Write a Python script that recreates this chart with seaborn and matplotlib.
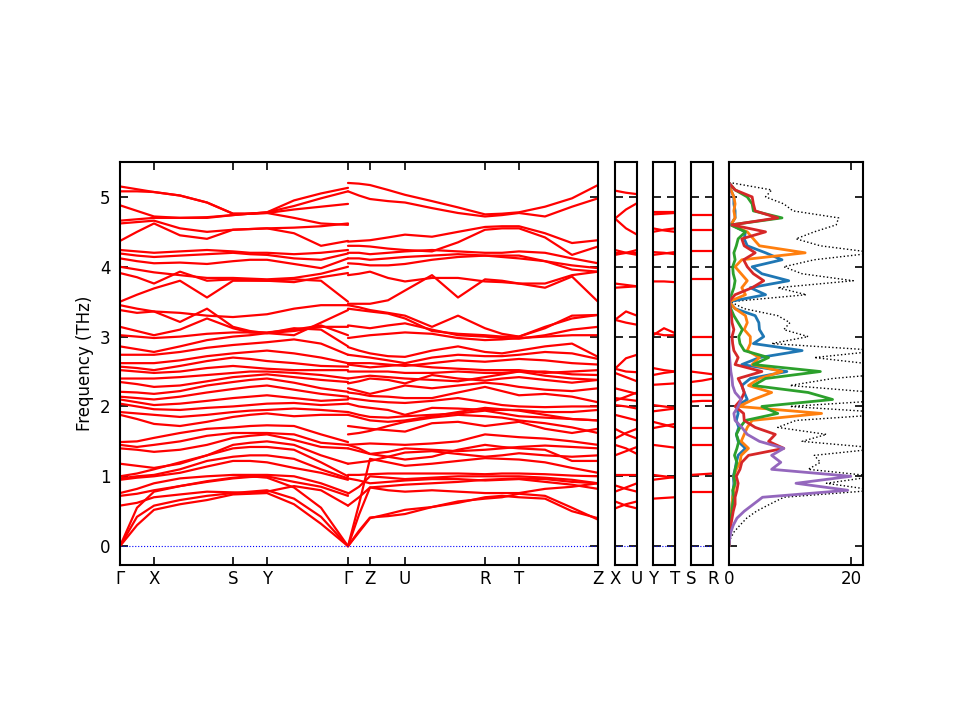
import matplotlib
matplotlib.use("Agg")
import matplotlib.pyplot as plt
import pandas as pd
import seaborn as sns

# ---- k-path (distances along the path, same units as panel widths) ----
k_left = [0, 17, 34, 60, 87, 113, 130, 147, 174, 201, 228]
k_right = [228, 239, 250, 268, 285, 312, 338, 365, 382, 399, 425, 452, 478]
k_short = [0, 11, 22]
main_ticks = [0, 34, 113, 147, 228, 250, 285, 365, 399, 478]
main_labels = ["Γ", "X", "S", "Y", "Γ", "Z", "U", "R", "T", "Z"]
short_labels = [["X", "U"], ["Y", "T"], ["S", "R"]]

# ---- bands on Γ-X-S-Y-Γ (THz) ----
left_low = [
    [0.00, 0.30, 0.52, 0.60, 0.66, 0.74, 0.75, 0.76, 0.60, 0.32, 0.00],
    [0.00, 0.42, 0.58, 0.66, 0.72, 0.76, 0.78, 0.80, 0.68, 0.42, 0.00],
    [0.00, 0.55, 0.78, 0.86, 0.93, 0.98, 1.00, 0.98, 0.84, 0.55, 0.00],
    [0.58, 0.62, 0.70, 0.74, 0.78, 0.77, 0.76, 0.78, 0.86, 0.80, 0.58],
    [0.72, 0.75, 0.80, 0.86, 0.92, 0.97, 0.99, 1.00, 0.92, 0.85, 0.72],
    [0.76, 0.82, 0.90, 0.97, 1.00, 1.02, 1.02, 1.02, 1.00, 0.90, 0.76],
    [0.95, 0.98, 1.00, 1.05, 1.14, 1.22, 1.22, 1.20, 1.12, 1.05, 0.95],
    [0.97, 1.00, 1.02, 1.10, 1.22, 1.28, 1.30, 1.30, 1.25, 1.10, 0.97],
    [1.00, 1.04, 1.10, 1.20, 1.30, 1.40, 1.42, 1.42, 1.38, 1.20, 1.00],
    [1.18, 1.15, 1.12, 1.18, 1.30, 1.45, 1.48, 1.50, 1.45, 1.30, 1.18],
    [1.40, 1.38, 1.35, 1.38, 1.45, 1.55, 1.58, 1.60, 1.52, 1.42, 1.40],
    [1.45, 1.42, 1.45, 1.50, 1.58, 1.62, 1.62, 1.62, 1.60, 1.48, 1.45],
    [1.49, 1.50, 1.55, 1.62, 1.68, 1.70, 1.72, 1.73, 1.72, 1.60, 1.49],
]
left_mid = [
    [1.88, 1.82, 1.75, 1.72, 1.78, 1.85, 1.88, 1.90, 1.86, 1.88, 1.88],
    [1.92, 1.90, 1.88, 1.85, 1.88, 1.92, 1.94, 1.95, 1.97, 1.95, 1.92],
    [2.04, 2.00, 1.96, 1.95, 1.98, 2.00, 2.02, 2.04, 2.05, 2.02, 2.04],
    [2.10, 2.06, 2.02, 2.04, 2.08, 2.12, 2.14, 2.16, 2.12, 2.08, 2.10],
    [2.14, 2.12, 2.10, 2.14, 2.20, 2.25, 2.28, 2.30, 2.24, 2.18, 2.14],
    [2.21, 2.20, 2.18, 2.22, 2.30, 2.35, 2.38, 2.40, 2.34, 2.26, 2.21],
    [2.35, 2.32, 2.28, 2.30, 2.36, 2.42, 2.44, 2.46, 2.42, 2.38, 2.35],
    [2.40, 2.40, 2.40, 2.42, 2.45, 2.48, 2.50, 2.50, 2.48, 2.45, 2.40],
    [2.52, 2.50, 2.48, 2.50, 2.55, 2.58, 2.56, 2.54, 2.52, 2.52, 2.52],
    [2.57, 2.55, 2.52, 2.58, 2.65, 2.70, 2.68, 2.65, 2.62, 2.58, 2.57],
    [2.62, 2.62, 2.62, 2.66, 2.72, 2.76, 2.78, 2.80, 2.76, 2.70, 2.62],
    [2.74, 2.74, 2.74, 2.78, 2.84, 2.88, 2.90, 2.92, 2.96, 2.90, 2.74],
    [2.86, 2.82, 2.78, 2.86, 2.95, 3.00, 3.02, 3.05, 3.12, 3.10, 2.86],
    [3.02, 3.00, 2.98, 3.00, 3.04, 3.06, 3.06, 3.06, 3.10, 3.16, 3.02],
    [3.14, 3.08, 3.02, 3.10, 3.26, 3.12, 3.06, 3.05, 3.08, 3.14, 3.14],
]
left_high = [
    [3.38, 3.34, 3.36, 3.21, 3.40, 3.14, 3.08, 3.05, 3.02, 3.20, 3.38],
    [3.45, 3.40, 3.36, 3.34, 3.30, 3.28, 3.30, 3.32, 3.40, 3.45, 3.45],
    [3.50, 3.60, 3.69, 3.80, 3.56, 3.80, 3.80, 3.80, 3.82, 3.80, 3.50],
    [3.91, 3.85, 3.76, 3.93, 3.80, 3.82, 3.81, 3.80, 3.78, 3.85, 3.91],
    [4.00, 3.96, 3.92, 3.88, 3.84, 3.84, 3.83, 3.82, 3.84, 3.90, 4.00],
    [4.12, 4.08, 4.05, 4.06, 4.04, 4.08, 4.10, 4.10, 4.04, 3.98, 4.12],
    [4.19, 4.16, 4.14, 4.16, 4.18, 4.20, 4.18, 4.17, 4.12, 4.10, 4.19],
    [4.24, 4.22, 4.20, 4.22, 4.24, 4.22, 4.20, 4.20, 4.18, 4.20, 4.24],
    [4.37, 4.50, 4.62, 4.45, 4.40, 4.53, 4.54, 4.55, 4.48, 4.30, 4.37],
    [4.62, 4.64, 4.66, 4.55, 4.50, 4.53, 4.54, 4.55, 4.56, 4.58, 4.62],
    [4.66, 4.68, 4.70, 4.70, 4.71, 4.74, 4.76, 4.77, 4.70, 4.62, 4.60],
    [4.88, 4.80, 4.72, 4.70, 4.70, 4.74, 4.76, 4.77, 4.82, 4.86, 4.90],
    [5.08, 5.08, 5.07, 5.02, 4.92, 4.76, 4.76, 4.78, 4.87, 4.98, 5.08],
    [5.15, 5.11, 5.07, 5.02, 4.92, 4.76, 4.76, 4.78, 4.95, 5.05, 5.13],
]

# ---- bands on Γ-Z-U-R-T-Z (THz) ----
right_high = [
    [5.20, 5.19, 5.17, 5.10, 5.03, 4.94, 4.85, 4.75, 4.76, 4.78, 4.86, 4.98, 5.17],
    [5.08, 5.02, 4.97, 4.94, 4.92, 4.84, 4.77, 4.72, 4.74, 4.77, 4.72, 4.86, 4.98],
    [4.36, 4.37, 4.38, 4.42, 4.46, 4.43, 4.50, 4.57, 4.58, 4.58, 4.48, 4.34, 4.38],
    [4.30, 4.30, 4.29, 4.26, 4.24, 4.22, 4.35, 4.53, 4.55, 4.55, 4.42, 4.17, 4.29],
    [4.20, 4.20, 4.18, 4.20, 4.22, 4.24, 4.22, 4.20, 4.20, 4.22, 4.20, 4.12, 4.05],
    [4.12, 4.12, 4.10, 4.12, 4.14, 4.16, 4.18, 4.16, 4.14, 4.12, 4.08, 4.02, 3.98],
    [4.05, 4.04, 4.02, 4.02, 4.04, 4.10, 4.14, 4.16, 4.16, 4.16, 4.08, 3.96, 3.93],
    [3.88, 3.90, 3.93, 3.84, 3.79, 3.84, 3.84, 3.79, 3.78, 3.76, 3.76, 3.88, 3.93],
    [3.47, 3.47, 3.47, 3.52, 3.66, 3.88, 3.56, 3.82, 3.80, 3.76, 3.70, 3.86, 3.50],
]
right_mid = [
    [3.45, 3.42, 3.38, 3.34, 3.30, 3.14, 3.30, 3.12, 3.04, 3.00, 3.14, 3.26, 3.31],
    [3.40, 3.38, 3.36, 3.33, 3.26, 3.08, 3.04, 3.02, 3.00, 3.00, 3.12, 3.30, 3.31],
    [3.16, 3.14, 3.12, 3.16, 3.19, 3.10, 3.02, 3.00, 2.98, 2.97, 3.02, 3.10, 3.14],
    [2.98, 3.00, 3.02, 3.04, 3.06, 3.04, 2.98, 2.95, 2.96, 2.98, 3.00, 3.02, 3.02],
    [2.85, 2.80, 2.76, 2.72, 2.71, 2.80, 2.86, 2.78, 2.76, 2.80, 2.86, 2.90, 2.71],
    [2.74, 2.72, 2.70, 2.66, 2.62, 2.70, 2.74, 2.72, 2.72, 2.74, 2.78, 2.76, 2.68],
    [2.62, 2.62, 2.62, 2.60, 2.58, 2.62, 2.66, 2.64, 2.66, 2.68, 2.66, 2.62, 2.60],
    [2.60, 2.58, 2.56, 2.58, 2.60, 2.56, 2.54, 2.52, 2.52, 2.52, 2.48, 2.50, 2.52],
    [2.50, 2.50, 2.50, 2.50, 2.48, 2.48, 2.50, 2.48, 2.48, 2.50, 2.50, 2.46, 2.45],
    [2.40, 2.42, 2.44, 2.42, 2.40, 2.38, 2.36, 2.42, 2.46, 2.50, 2.44, 2.40, 2.38],
    [2.33, 2.36, 2.40, 2.38, 2.33, 2.45, 2.40, 2.37, 2.40, 2.42, 2.38, 2.34, 2.38],
    [2.26, 2.22, 2.18, 2.24, 2.30, 2.26, 2.30, 2.34, 2.32, 2.28, 2.24, 2.22, 2.26],
    [2.20, 2.18, 2.15, 2.14, 2.12, 2.12, 2.20, 2.28, 2.22, 2.16, 2.18, 2.14, 2.06],
    [2.12, 2.10, 2.08, 2.06, 2.05, 2.08, 2.12, 2.06, 2.02, 2.00, 1.99, 2.00, 2.00],
    [2.04, 2.00, 1.98, 1.95, 1.88, 1.98, 1.97, 1.95, 1.95, 1.95, 1.92, 1.92, 1.95],
]
right_low = [
    [1.92, 1.88, 1.85, 1.84, 1.86, 1.88, 1.90, 1.94, 1.90, 1.86, 1.84, 1.82, 1.80],
    [1.88, 1.84, 1.80, 1.78, 1.80, 1.86, 1.92, 1.98, 1.96, 1.94, 1.88, 1.82, 1.80],
    [1.72, 1.70, 1.68, 1.66, 1.64, 1.76, 1.78, 1.72, 1.75, 1.78, 1.68, 1.62, 1.68],
    [1.60, 1.62, 1.65, 1.72, 1.78, 1.84, 1.88, 1.86, 1.84, 1.80, 1.76, 1.70, 1.62],
    [1.45, 1.46, 1.47, 1.46, 1.45, 1.47, 1.50, 1.60, 1.58, 1.56, 1.54, 1.50, 1.45],
    [1.45, 1.40, 1.32, 1.28, 1.24, 1.28, 1.38, 1.45, 1.42, 1.40, 1.38, 1.22, 1.22],
    [1.40, 1.36, 1.32, 1.35, 1.40, 1.38, 1.36, 1.38, 1.40, 1.42, 1.44, 1.42, 1.40],
    [1.18, 1.20, 1.22, 1.28, 1.34, 1.36, 1.32, 1.28, 1.30, 1.33, 1.30, 1.28, 1.30],
    [0.00, 0.60, 1.25, 1.20, 1.15, 1.18, 1.22, 1.26, 1.25, 1.24, 1.20, 1.12, 1.05],
    [1.02, 1.02, 1.03, 1.04, 1.04, 1.04, 1.04, 1.03, 1.04, 1.04, 1.03, 1.01, 1.00],
    [0.97, 0.94, 0.90, 0.92, 0.94, 0.96, 0.96, 0.94, 0.95, 0.96, 0.92, 0.88, 0.82],
    [0.75, 0.85, 1.00, 0.98, 0.96, 0.98, 1.00, 1.00, 1.00, 1.00, 0.98, 0.95, 0.90],
    [0.58, 0.70, 0.84, 0.86, 0.88, 0.90, 0.92, 0.95, 0.96, 0.97, 0.96, 0.92, 0.90],
    [0.00, 0.45, 0.84, 0.80, 0.78, 0.80, 0.78, 0.76, 0.76, 0.76, 0.82, 0.85, 0.90],
    [0.00, 0.20, 0.40, 0.46, 0.52, 0.56, 0.62, 0.70, 0.72, 0.70, 0.68, 0.50, 0.40],
    [0.00, 0.22, 0.41, 0.43, 0.46, 0.56, 0.64, 0.68, 0.70, 0.75, 0.72, 0.55, 0.38],
]

# ---- short segments X-U, Y-T, S-R (THz) ----
xu_bands = [
    [5.09, 5.06, 5.04], [4.69, 4.82, 4.91], [4.69, 4.55, 4.46], [4.24, 4.20, 4.17],
    [4.17, 4.20, 4.24], [4.20, 4.20, 4.20], [3.76, 3.74, 3.72], [3.70, 3.71, 3.72],
    [3.24, 3.36, 3.30], [3.24, 3.20, 3.17], [2.54, 2.69, 2.74], [2.54, 2.50, 2.49],
    [2.48, 2.42, 2.36], [2.26, 2.22, 2.18], [2.12, 2.10, 2.08], [2.02, 2.00, 1.97],
    [2.08, 2.14, 2.20], [1.88, 1.84, 1.80], [1.68, 1.60, 1.54], [1.54, 1.62, 1.68],
    [1.45, 1.40, 1.32], [1.30, 1.36, 1.42], [1.02, 1.02, 1.02], [0.87, 0.82, 0.78],
    [0.78, 0.84, 0.90], [0.64, 0.58, 0.54], [0.54, 0.60, 0.64],
]
yt_bands = [
    [4.78, 4.78, 4.78], [4.75, 4.76, 4.77], [4.55, 4.52, 4.50], [4.50, 4.53, 4.55],
    [4.21, 4.20, 4.18], [4.17, 4.19, 4.21], [3.79, 3.79, 3.78], [3.02, 3.12, 3.05],
    [3.05, 3.02, 3.02], [2.55, 2.52, 2.50], [2.45, 2.48, 2.50], [2.31, 2.32, 2.33],
    [2.02, 2.00, 1.98], [1.93, 1.95, 1.97], [1.78, 1.74, 1.70], [1.69, 1.72, 1.75],
    [1.45, 1.43, 1.41], [1.02, 1.00, 0.98], [0.95, 0.97, 0.99], [0.68, 0.69, 0.70],
]
sr_bands = [
    [4.74, 4.74, 4.74], [4.53, 4.53, 4.53], [4.22, 4.22, 4.22], [3.83, 3.83, 3.83],
    [3.00, 3.00, 3.00], [2.74, 2.74, 2.74], [2.50, 2.48, 2.46], [2.35, 2.37, 2.40],
    [2.16, 2.16, 2.16], [2.07, 2.08, 2.08], [1.69, 1.69, 1.69], [1.45, 1.45, 1.45],
    [1.02, 1.03, 1.04], [0.78, 0.78, 0.78],
]

# ---- phonon DOS (states/THz) ----
dos_freq = [0.0, 0.1, 0.2, 0.3, 0.4, 0.5, 0.6, 0.7, 0.8, 0.9,
            1.0, 1.1, 1.2, 1.3, 1.4, 1.5, 1.6, 1.7, 1.8, 1.9,
            2.0, 2.1, 2.2, 2.3, 2.4, 2.5, 2.6, 2.7, 2.8, 2.9,
            3.0, 3.1, 3.2, 3.3, 3.4, 3.5, 3.6, 3.7, 3.8, 3.9,
            4.0, 4.1, 4.2, 4.3, 4.4, 4.5, 4.6, 4.7, 4.8, 4.9,
            5.0, 5.1, 5.2]
dos_total = [0.0, 0.2, 0.8, 1.8, 2.9, 4.5, 6.7, 9.0, 24.0, 16.0,
             24.0, 13.0, 15.0, 14.0, 25.0, 12.0, 16.0, 8.0, 11.0, 28.0,
             10.0, 28.0, 24.0, 10.0, 17.0, 30.0, 24.0, 14.0, 25.0, 7.0,
             13.0, 9.0, 10.0, 8.0, 2.5, 0.2, 12.7, 8.0, 20.4, 12.0,
             9.0, 14.0, 24.0, 15.0, 11.0, 14.0, 17.6, 18.0, 10.5, 9.0,
             6.0, 7.0, 0.5]
dos_blue = [0.0, 0.0, 0.1, 0.2, 0.3, 0.4, 0.5, 0.6, 0.7, 0.8,
            0.7, 1.0, 1.2, 1.5, 2.7, 1.5, 1.2, 1.6, 1.2, 1.5,
            1.2, 3.0, 2.5, 2.1, 3.5, 9.5, 2.1, 5.0, 12.0, 4.0,
            5.7, 5.0, 4.9, 4.3, 1.0, 0.0, 6.0, 3.5, 9.8, 5.4,
            3.8, 8.7, 6.0, 3.0, 2.5, 2.7, 0.3, 1.0, 1.0, 0.8,
            0.8, 0.3, 0.0]
dos_orange = [0.0, 0.0, 0.1, 0.2, 0.3, 0.4, 0.5, 0.6, 0.8, 1.0,
              0.8, 1.2, 1.8, 2.0, 3.2, 2.0, 2.5, 3.0, 3.8, 15.2,
              1.6, 4.0, 7.0, 3.2, 5.0, 8.7, 3.8, 5.0, 3.0, 3.5,
              3.5, 2.5, 3.0, 2.7, 1.0, 0.0, 2.7, 2.1, 3.0, 2.0,
              1.0, 2.1, 12.5, 5.0, 4.0, 3.0, 0.3, 1.0, 0.8, 1.0,
              0.8, 0.3, 0.0]
dos_green = [0.0, 0.0, 0.1, 0.2, 0.3, 0.5, 0.6, 0.8, 0.6, 1.0,
             0.8, 1.0, 1.3, 0.9, 1.3, 1.6, 1.2, 1.8, 2.7, 8.0,
             5.4, 17.0, 13.0, 4.0, 6.0, 15.0, 4.0, 6.5, 2.5, 1.8,
             1.6, 2.2, 1.5, 0.8, 0.3, 0.0, 0.4, 0.8, 1.0, 0.7,
             0.6, 1.0, 0.8, 1.2, 1.5, 2.7, 0.3, 8.7, 4.0, 3.8,
             3.0, 1.0, 0.0]
dos_red = [0.0, 0.0, 0.1, 0.3, 0.5, 0.7, 1.0, 1.0, 1.3, 1.5,
           1.2, 1.8, 2.1, 3.2, 9.0, 6.5, 7.6, 4.3, 2.5, 2.4,
           1.0, 2.0, 2.5, 2.1, 1.5, 5.4, 1.0, 1.5, 0.8, 0.6,
           0.5, 0.8, 0.5, 0.4, 0.2, 0.0, 1.0, 3.8, 5.7, 4.0,
           3.0, 2.4, 4.3, 2.5, 2.1, 6.0, 0.5, 8.0, 4.3, 4.0,
           3.8, 1.0, 0.0]
dos_purple = [0.0, 0.1, 0.3, 0.7, 1.3, 2.5, 4.0, 5.5, 19.5, 11.0,
              20.0, 7.0, 8.5, 7.0, 9.0, 5.0, 3.0, 2.1, 1.0, 0.8,
              1.5, 2.0, 1.0, 0.6, 0.5, 0.3, 0.2, 0.1, 0.0, 0.0,
              0.0, 0.0, 0.0, 0.0, 0.0, 0.0, 0.0, 0.0, 0.0, 0.0,
              0.0, 0.0, 0.0, 0.0, 0.0, 0.0, 0.0, 0.0, 0.0, 0.0,
              0.0, 0.0, 0.0]
pdos = [dos_blue, dos_orange, dos_green, dos_red, dos_purple]


def band_frame(k, lines, tag):
    rows = []
    for i, line in enumerate(lines):
        for kk, f in zip(k, line):
            rows.append((f"{tag}{i}", kk, f))
    return pd.DataFrame(rows, columns=["band", "k", "freq"])


def draw_bands(ax, df):
    sns.lineplot(data=df, x="k", y="freq", units="band", estimator=None,
                 color="red", linewidth=1.6, ax=ax, legend=False)
    ax.axhline(0, color="blue", linestyle=":", linewidth=0.8)


def style_axis(ax):
    ax.tick_params(direction="in", top=True, right=True, length=6, width=1.2,
                   labelsize=12, colors="black")
    ax.tick_params(axis="y", pad=7)
    for s in ax.spines.values():
        s.set_linewidth(1.5)
        s.set_color("black")
    ax.set_ylim(-0.27, 5.5)
    ax.set_xlabel("")
    ax.set_ylabel("")


sns.set_theme(style="ticks")
plt.rcParams["font.family"] = ["DejaVu Sans"]
plt.rcParams["text.color"] = "black"
plt.rcParams["axes.labelcolor"] = "black"

fig = plt.figure(figsize=(9.6, 7.2), dpi=100)
bottom, height = 1 - 565 / 720, 403 / 720
ax_main = fig.add_axes([120 / 960, bottom, 478 / 960, height])
ax_short = [fig.add_axes([x0 / 960, bottom, 22 / 960, height]) for x0 in (615, 653, 691)]
ax_dos = fig.add_axes([729 / 960, bottom, 134 / 960, height])

# main path
main_df = pd.concat([
    band_frame(k_left, left_low + left_mid + left_high, "L"),
    band_frame(k_right, right_low + right_mid + right_high, "R"),
])
draw_bands(ax_main, main_df)
style_axis(ax_main)
ax_main.set_xlim(0, 478)
ax_main.set_xticks(main_ticks)
ax_main.set_xticklabels(main_labels)
ax_main.set_yticks([0, 1, 2, 3, 4, 5])
ax_main.set_ylabel("Frequency (THz)", fontsize=12, color="black")

# short segments
for ax, lines, labels in zip(ax_short, [xu_bands, yt_bands, sr_bands], short_labels):
    draw_bands(ax, band_frame(k_short, lines, "s"))
    style_axis(ax)
    ax.set_xlim(0, 22)
    ax.set_xticks([0, 22])
    ax.set_xticklabels(labels)
    ax.set_yticks([0, 1, 2, 3, 4, 5])
    ax.set_yticklabels([])

# DOS
sns.lineplot(x=dos_total, y=dos_freq, orient="y", sort=False, estimator=None,
             color="black", linestyle=":", linewidth=1.0, ax=ax_dos)
for values, col in zip(pdos, sns.color_palette("tab10", 5)):
    sns.lineplot(x=values, y=dos_freq, orient="y", sort=False, estimator=None,
                 color=col, linewidth=2.0, ax=ax_dos)
style_axis(ax_dos)
ax_dos.set_xlim(0, 22)
ax_dos.set_xticks([0, 20])
ax_dos.set_yticks([0, 1, 2, 3, 4, 5])
ax_dos.set_yticklabels([])

fig.savefig("out.png", dpi=100)
